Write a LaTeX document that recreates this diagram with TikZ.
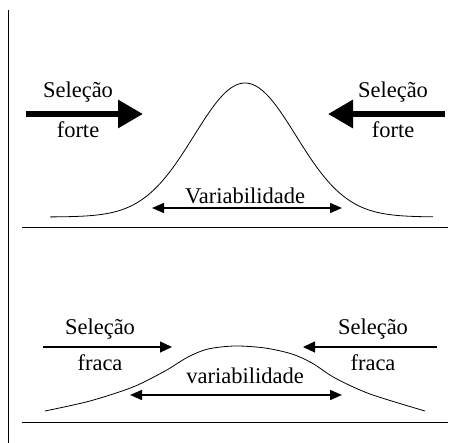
\documentclass[tikz,border=0pt]{standalone}
\usepackage{fontspec}
\setmainfont{Liberation Serif}
\usetikzlibrary{arrows.meta,positioning}

\begin{document}
\begin{tikzpicture}[x=1pt, y=-1pt, >=Latex, every node/.style={font=\fontsize{22.5}{26}\selectfont, inner sep=0pt, anchor=base}, strong/.style={-{Triangle[length=25pt,width=27pt]}, line width=6pt}, weak/.style={-{Triangle[length=12pt,width=11pt]}, line width=1.3pt}, spread/.style={{Triangle[length=12pt,width=10pt]}-{Triangle[length=12pt,width=10pt]}, line width=1.5pt}, rule/.style={line width=0.9pt}]
\useasboundingbox (0,0) rectangle (453,443);
% frame lines
\coordinate (vTop) at (8,10); \coordinate (vBot) at (8,443);
\coordinate (r1L) at (22,227); \coordinate (r1R) at (448,227);
\coordinate (r2L) at (22,422); \coordinate (r2R) at (448,422);
\draw[rule] (vTop) -- (vBot); \draw[rule] (r1L) -- (r1R); \draw[rule] (r2L) -- (r2R);
% strong selection
\draw[line width=0.8pt] plot[domain=50:433, samples=120, smooth] (\x, {217-134*exp(-((\x-245)/51)^2/2)});
\coordinate (sL1) at (26,114); \coordinate (sL2) at (143,114);
\coordinate (sR1) at (445,114); \coordinate (sR2) at (328,114);
\draw[strong] (sL1) -- (sL2); \draw[strong] (sR1) -- (sR2);
\node (selL) at (78,98) {Seleção}; \node (forL) at (78,138) {forte};
\node (selR) at (393,98) {Seleção}; \node (forR) at (393,138) {forte};
\coordinate (vaL) at (152,208); \coordinate (vaR) at (342,208);
\draw[spread] (vaL) -- (vaR);
\node (varA) at (245,204) {Variabilidade};
% weak selection
\draw[line width=0.8pt] plot[smooth] coordinates {(45,411) (90,401) (133,387) (165,371) (188,357) (208,349) (235,346) (265,348) (292,354) (312,363) (335,378) (370,394) (425,411)};
\coordinate (wL1) at (43,347); \coordinate (wL2) at (172,347);
\coordinate (wR1) at (437,347); \coordinate (wR2) at (303,347);
\draw[weak] (wL1) -- (wL2); \draw[weak] (wR1) -- (wR2);
\node (selL2) at (100,335) {Seleção}; \node (fraL) at (100,371) {fraca};
\node (selR2) at (373,335) {Seleção}; \node (fraR) at (373,371) {fraca};
\coordinate (vbL) at (130,395); \coordinate (vbR) at (342,395);
\draw[spread] (vbL) -- (vbR);
\node (varB) at (245,384) {variabilidade};
\end{tikzpicture}
\end{document}
